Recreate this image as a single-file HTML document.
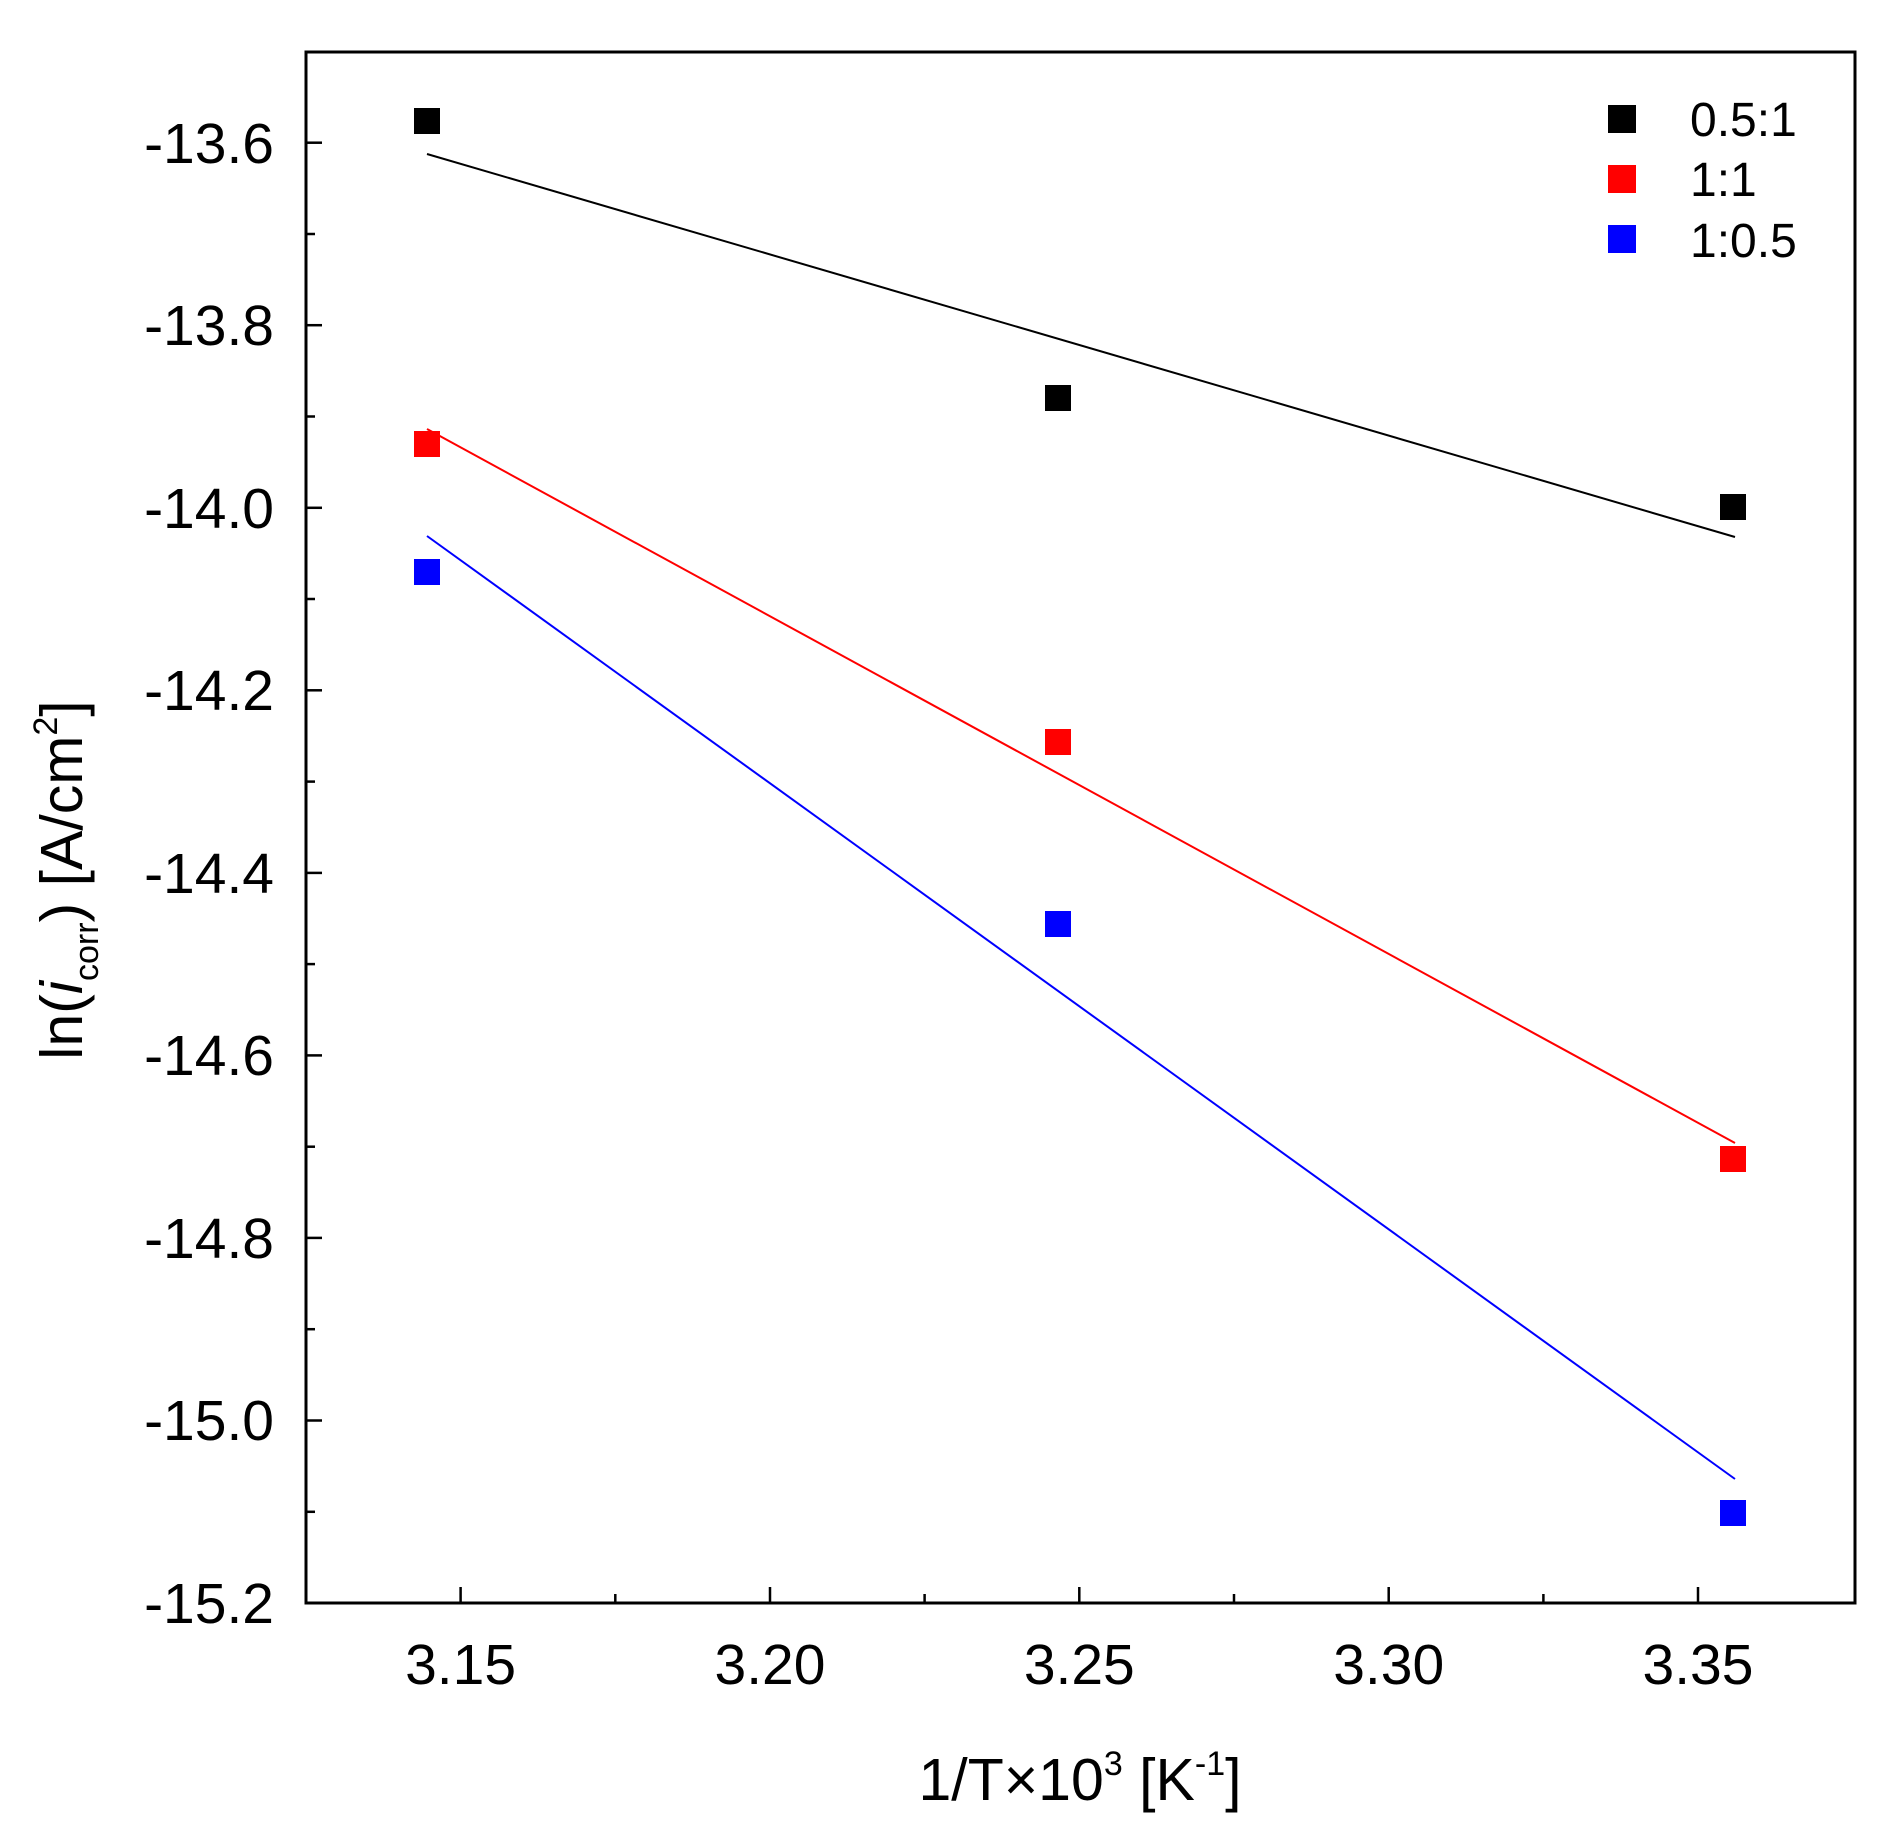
<!DOCTYPE html>
<html><head><meta charset="utf-8"><style>
html,body{margin:0;padding:0;background:#fff}
svg{display:block}
text{font-family:"Liberation Sans",Arial,sans-serif;fill:#000}
</style></head><body>
<svg width="1895" height="1841" viewBox="0 0 1895 1841" xmlns="http://www.w3.org/2000/svg">
<rect x="0" y="0" width="1895" height="1841" fill="#fff"/>
<rect x="306" y="52" width="1549" height="1551" fill="none" stroke="#000" stroke-width="3"/>
<g stroke="#000" stroke-width="2.5">
<line x1="306" y1="142.7" x2="322" y2="142.7"/><line x1="306" y1="325.2" x2="322" y2="325.2"/>
<line x1="306" y1="507.8" x2="322" y2="507.8"/><line x1="306" y1="690.3" x2="322" y2="690.3"/>
<line x1="306" y1="872.9" x2="322" y2="872.9"/><line x1="306" y1="1055.4" x2="322" y2="1055.4"/>
<line x1="306" y1="1237.9" x2="322" y2="1237.9"/><line x1="306" y1="1420.5" x2="322" y2="1420.5"/>
<line x1="306" y1="234" x2="315" y2="234"/><line x1="306" y1="416.5" x2="315" y2="416.5"/>
<line x1="306" y1="599" x2="315" y2="599"/><line x1="306" y1="781.6" x2="315" y2="781.6"/>
<line x1="306" y1="964.1" x2="315" y2="964.1"/><line x1="306" y1="1146.7" x2="315" y2="1146.7"/>
<line x1="306" y1="1329.2" x2="315" y2="1329.2"/><line x1="306" y1="1511.8" x2="315" y2="1511.8"/>
<line x1="460.6" y1="1603" x2="460.6" y2="1587"/><line x1="770" y1="1603" x2="770" y2="1587"/>
<line x1="1079.3" y1="1603" x2="1079.3" y2="1587"/><line x1="1388.7" y1="1603" x2="1388.7" y2="1587"/>
<line x1="1698" y1="1603" x2="1698" y2="1587"/>
<line x1="615.3" y1="1603" x2="615.3" y2="1594"/><line x1="924.6" y1="1603" x2="924.6" y2="1594"/>
<line x1="1234" y1="1603" x2="1234" y2="1594"/><line x1="1543.4" y1="1603" x2="1543.4" y2="1594"/>
</g>
<g font-size="57" text-anchor="end">
<text x="274" y="163">-13.6</text><text x="274" y="345">-13.8</text>
<text x="274" y="528">-14.0</text><text x="274" y="710">-14.2</text>
<text x="274" y="893">-14.4</text><text x="274" y="1075">-14.6</text>
<text x="274" y="1258">-14.8</text><text x="274" y="1440">-15.0</text>
<text x="274" y="1623">-15.2</text>
</g>
<g font-size="57" text-anchor="middle">
<text x="460.6" y="1684">3.15</text><text x="770" y="1684">3.20</text>
<text x="1079.3" y="1684">3.25</text><text x="1388.7" y="1684">3.30</text>
<text x="1698" y="1684">3.35</text>
</g>
<text x="1080" y="1800" font-size="59" text-anchor="middle">1/T×10<tspan font-size="34" dy="-25">3</tspan><tspan dy="25"> [K</tspan><tspan font-size="34" dy="-25">-1</tspan><tspan dy="25">]</tspan></text>
<text transform="translate(82,880) rotate(-90)" font-size="59" text-anchor="middle">ln(<tspan font-style="italic">i</tspan><tspan font-size="34" dy="16">corr</tspan><tspan dy="-16">) [A/cm</tspan><tspan font-size="34" dy="-25">2</tspan><tspan dy="25">]</tspan></text>
<line x1="427" y1="154" x2="1735" y2="537" stroke="#000" stroke-width="2"/>
<line x1="427" y1="429" x2="1735" y2="1143" stroke="#f00" stroke-width="2"/>
<line x1="427" y1="536" x2="1735" y2="1479" stroke="#00f" stroke-width="2"/>
<g fill="#000"><rect x="414" y="108" width="26" height="26"/><rect x="1045" y="385" width="26" height="26"/><rect x="1720" y="494" width="26" height="26"/></g>
<g fill="#f00"><rect x="414" y="431" width="26" height="26"/><rect x="1045" y="729" width="26" height="26"/><rect x="1720" y="1146" width="26" height="26"/></g>
<g fill="#00f"><rect x="414" y="559" width="26" height="26"/><rect x="1045" y="911" width="26" height="26"/><rect x="1720" y="1500" width="26" height="26"/></g>
<rect x="1608" y="105" width="28" height="28" fill="#000"/>
<rect x="1608" y="165" width="28" height="28" fill="#f00"/>
<rect x="1608" y="225" width="28" height="28" fill="#00f"/>
<g font-size="48">
<text x="1690" y="136">0.5:1</text><text x="1690" y="196">1:1</text><text x="1690" y="257">1:0.5</text>
</g>
</svg>
</body></html>
